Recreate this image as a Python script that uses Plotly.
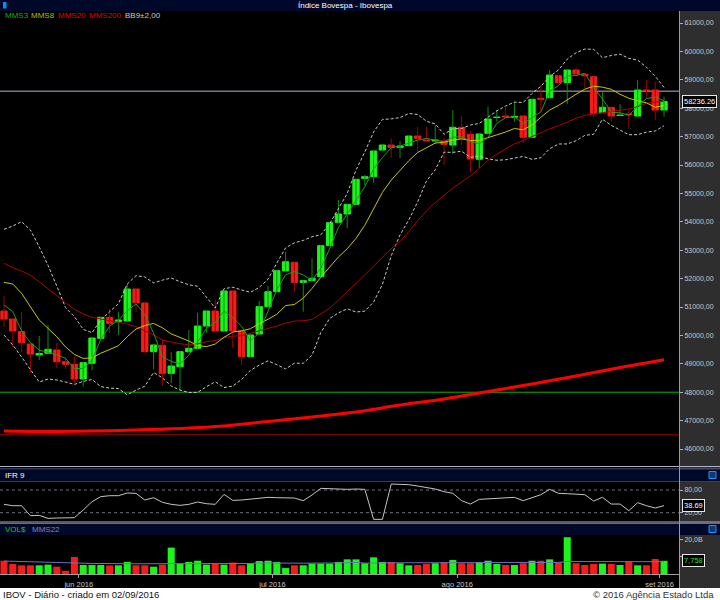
import plotly.graph_objects as go
import pandas as pd

FONT = "Liberation Sans, Arial, sans-serif"
FIG_W, FIG_H, PLOT_W = 720, 600, 679

# ---------------- data ----------------
MAY_DAYS = [18, 19, 20, 23, 24, 25, 27, 31]
JUN_DAYS = [1, 2, 3, 6, 7, 8, 9, 10, 13, 14, 15, 16, 17, 20, 21, 22, 23, 24, 27, 28, 29, 30]
JUL_DAYS = [1, 4, 5, 6, 7, 8, 11, 12, 13, 14, 15, 18, 19, 20, 21, 22, 25, 26, 27, 28, 29]
AGO_DAYS = [1, 2, 3, 4, 5, 8, 9, 10, 11, 12, 15, 16, 17, 18, 19, 22, 23, 24, 25, 26, 29, 30, 31]
SET_DAYS = [1, 2]
MONTH_LABELS = ["jun 2016", "jul 2016", "ago 2016", "set 2016"]

OPEN = [50859, 50578, 50138, 49697, 49310, 49370, 49486, 49074, 48983, 48465,
        49018, 49898, 50638, 50483, 50507, 51634, 51141, 49426, 49652, 48666,
        48898, 49426, 49546, 50331, 50859, 50155, 51564, 50155, 49250, 50049,
        51011, 51539, 52268, 52574, 51870, 51926, 52067, 53159, 53983, 54275,
        54616, 55532, 55588, 56528, 56704, 56623, 56680, 57021, 56880, 56845,
        56845, 56704, 57328, 57081, 56201, 57116, 57673, 57725, 57680, 57725,
        56975, 58349, 58370, 59144, 58898, 59345, 59194, 59109, 57842, 58032,
        57743, 57796, 57725, 58641, 58641, 57937]
HIGH = [51387, 50578, 50824, 49697, 49979, 50366, 49733, 49240, 49250, 49064,
        49909, 50648, 50919, 50835, 51810, 51650, 51141, 49697, 49873, 49405,
        49433, 50190, 50800, 50859, 51247, 51599, 51564, 50155, 50049, 51211,
        51740, 52303, 52947, 52585, 51933, 52715, 53183, 53993, 54768, 54627,
        55507, 55648, 56493, 56740, 56940, 56845, 57021, 57338, 57338, 57409,
        56951, 57937, 57725, 57173, 57127, 58053, 57937, 58018, 58229, 57736,
        58324, 58792, 59345, 59169, 59345, 59426, 59210, 59116, 58581, 58042,
        58137, 57937, 58993, 58993, 58933, 58405]
LOW = [50296, 49592, 49416, 48676, 49134, 49363, 48852, 48817, 48314, 48194,
       48782, 49873, 50074, 50014, 50472, 50835, 49416, 48817, 48219, 48314,
       48078, 49416, 49521, 50085, 50120, 50138, 49557, 48958, 49240, 50014,
       51000, 51528, 52250, 51539, 50835, 51916, 52057, 53148, 53958, 53771,
       54592, 55296, 55377, 56493, 56257, 56247, 56669, 56468, 56810, 56740,
       56000, 56387, 56704, 55743, 55895, 57092, 57525, 57655, 57525, 56764,
       56951, 57902, 58359, 58887, 58137, 59169, 58711, 57666, 57831, 57525,
       57725, 57292, 57690, 58349, 57585, 57701]
CLOSE = [50578, 50155, 49743, 49345, 49363, 49511, 49074, 48983, 48465, 49039,
         49909, 50638, 50426, 50543, 51634, 51152, 49426, 49662, 48666, 48923,
         49426, 49546, 50331, 50859, 50155, 51564, 50155, 49250, 50014, 51011,
         51539, 52278, 52595, 51870, 51926, 52011, 53159, 53969, 54275, 54616,
         55497, 55588, 56493, 56704, 56623, 56669, 57021, 56940, 56845, 56880,
         56729, 57328, 56940, 56211, 57092, 57620, 57690, 57690, 57715, 56975,
         58313, 58313, 59169, 58898, 59345, 59204, 59144, 57821, 58032, 57725,
         57761, 57771, 58641, 58606, 57937, 58236.26]

VOLUME_B = [7.8, 5.9, 5.1, 5.1, 5.1, 5.5, 4.3, 1.9, 10.0, 5.3,
            5.3, 5.3, 5.0, 5.1, 7.1, 5.1, 5.1, 4.3, 5.5, 15.5,
            5.9, 7.1, 7.8, 5.5, 5.9, 5.5, 6.7, 5.1, 6.1, 7.6,
            7.8, 7.1, 3.5, 5.1, 5.1, 6.1, 6.1, 6.1, 7.1, 8.6,
            8.6, 6.3, 9.8, 7.1, 7.1, 6.3, 5.1, 5.3, 5.9, 6.3,
            6.9, 8.2, 6.3, 6.3, 6.9, 7.8, 5.9, 5.3, 5.3, 6.3,
            7.8, 7.8, 8.6, 6.9, 21.6, 6.3, 5.3, 5.9, 6.1, 5.9,
            5.3, 7.3, 5.1, 5.1, 8.8, 7.758]

IFR9 = [42.1, 38.5, 38.5, 12.1, 12.9, 5.0, 5.9, 5.9, 6.8, 27.1,
        49.1, 62.4, 65.0, 65.0, 72.1, 71.2, 53.5, 59.7, 47.4, 42.1,
        39.4, 42.1, 48.2, 43.8, 42.1, 68.5, 52.6, 53.5, 56.2, 57.9,
        60.6, 59.7, 59.7, 58.8, 51.8, 66.8, 84.4, 83.5, 81.8, 81.8,
        82.6, 81.8, 2.4, 2.4, 95.9, 95.9, 94.1, 90.6, 86.2, 82.6,
        75.6, 71.2, 51.8, 42.9, 55.3, 57.1, 58.8, 60.6, 60.6, 51.8,
        59.7, 67.6, 81.8, 71.2, 70.3, 68.5, 67.6, 50.9, 60.6, 42.9,
        42.9, 25.3, 46.5, 38.5, 32.4, 38.69]

# indicator values at the start of the window
MMS3_START = [51071, 50835]
MMS8_START = [51870, 51810, 51483, 51011, 50542, 50250, 49954]
MMS20_START = [52539, 52384, 52268, 52116, 51891, 51659, 51398, 51152, 50919, 50754,
               50638, 50578, 50518, 50483, 50402, 50307, 50166, 50014, 49838]
BB_UPPER_START = [53736, 53852, 54004, 53711, 53123, 52468, 51740, 50976]
BB_LOWER_START = [50014, 49662, 49240, 48782, 48359, 48465, 48430, 48359]
MMS200_IDX = [0, 5, 10, 15, 20, 25, 30, 35, 40, 45, 50, 55, 60, 65, 70, 75]
MMS200_VAL = [46634, 46616, 46634, 46669, 46722, 46810, 46969, 47127, 47303, 47549,
              47761, 48025, 48289, 48571, 48870, 49145]
MMS22_START_IDX = [0, 5, 10, 15, 20]
MMS22_START_VAL = [7.6, 6.8, 6.2, 6.0, 6.0]

PRICE_TICKS = list(range(46000, 61001, 1000))
LEVEL_LINES = [(58600, "#b4b4d4"), (48000, "#00b400"), (46500, "#a00000")]

# ---------------- derived ----------------
n = len(CLOSE)
idx = list(range(n))
close = pd.Series(CLOSE, dtype=float)
mms3 = close.rolling(3).mean(); mms3.iloc[:2] = MMS3_START
mms8 = close.rolling(8).mean(); mms8.iloc[:7] = MMS8_START
mms20 = close.rolling(20).mean(); mms20.iloc[:19] = MMS20_START
mid9 = close.rolling(9).mean(); sd9 = close.rolling(9).std(ddof=0)
bbu = mid9 + 2 * sd9; bbu.iloc[:8] = BB_UPPER_START
bbl = mid9 - 2 * sd9; bbl.iloc[:8] = BB_LOWER_START
vol = pd.Series(VOLUME_B)
mms22 = vol.rolling(22).mean()
x22 = MMS22_START_IDX + list(range(21, n))
y22 = MMS22_START_VAL + list(mms22.iloc[21:])

up = [CLOSE[i] >= OPEN[i] for i in idx]
GREEN, RED = "#1cf51c", "#f51c1c"
GREEN_W, RED_W = "#0c8f0c", "#a00000"

month_starts = [len(MAY_DAYS), len(MAY_DAYS) + len(JUN_DAYS),
                len(MAY_DAYS) + len(JUN_DAYS) + len(JUL_DAYS),
                len(MAY_DAYS) + len(JUN_DAYS) + len(JUL_DAYS) + len(AGO_DAYS)]
tick_pos = [m + 0.5 for m in month_starts]


def px(x):
    return x / PLOT_W


def py(y):
    return 1 - y / FIG_H


fig = go.Figure()

# ---- main panel ----
fig.add_trace(go.Scatter(x=MMS200_IDX, y=MMS200_VAL, mode="lines", xaxis="x2", yaxis="y",
                         line=dict(color="#ff0000", width=3, shape="spline")))

for up_flag, col in [(True, GREEN_W), (False, RED_W)]:
    xs, ys = [], []
    for i in idx:
        if up[i] == up_flag:
            xs += [i, i, None]
            ys += [HIGH[i], LOW[i], None]
    fig.add_trace(go.Scatter(x=xs, y=ys, mode="lines", xaxis="x2", yaxis="y",
                             line=dict(color=col, width=1)))

body_base = [min(OPEN[i], CLOSE[i]) for i in idx]
body_h = [abs(CLOSE[i] - OPEN[i]) for i in idx]
body_col = [GREEN if u else RED for u in up]
fig.add_trace(go.Bar(x=idx, y=body_h, base=body_base, width=0.72, xaxis="x2", yaxis="y",
                     marker=dict(color=body_col, line=dict(color=body_col, width=1))))

for s in (bbu, bbl):
    fig.add_trace(go.Scatter(x=idx, y=list(s), mode="lines", xaxis="x2", yaxis="y",
                             line=dict(color="#c8c8c8", width=1, dash="3px,2px")))
fig.add_trace(go.Scatter(x=idx, y=list(mms20), mode="lines", xaxis="x2", yaxis="y",
                         line=dict(color="#b00000", width=1)))
fig.add_trace(go.Scatter(x=idx, y=list(mms8), mode="lines", xaxis="x2", yaxis="y",
                         line=dict(color="#c8c800", width=1)))
fig.add_trace(go.Scatter(x=idx, y=list(mms3), mode="lines", xaxis="x2", yaxis="y",
                         line=dict(color="#1aa01a", width=1)))

# ---- IFR panel ----
fig.add_trace(go.Scatter(x=idx, y=IFR9, mode="lines", xaxis="x3", yaxis="y2",
                         line=dict(color="#c4c4c4", width=1)))

# ---- volume panel ----
fig.add_trace(go.Bar(x=idx, y=VOLUME_B, width=0.8, xaxis="x", yaxis="y3",
                     marker=dict(color=body_col, line=dict(width=0))))
fig.add_trace(go.Scatter(x=x22, y=y22, mode="lines", xaxis="x", yaxis="y3",
                         line=dict(color="#6f6fc8", width=1)))

# ---------------- layout ----------------
tickfont = dict(family=FONT, size=7, color="#c8c8c8")
yax_common = dict(side="right", showgrid=False, zeroline=False, showline=False,
                  ticks="outside", ticklen=3, tickcolor="#b0b0b0", tickfont=tickfont)
xrange = [-0.4545, 76.7]

shapes = []


def rect(x0, y0, x1, y1, fill, line_col=None, layer="below"):
    shapes.append(dict(type="rect", xref="paper", yref="paper", x0=px(x0), x1=px(x1),
                       y0=py(y1), y1=py(y0), fillcolor=fill, layer=layer,
                       line=dict(width=1 if line_col else 0, color=line_col or fill)))


def hline_px(y, col, x0=0, x1=FIG_W, layer="below"):
    shapes.append(dict(type="line", xref="paper", yref="paper", x0=px(x0), x1=px(x1),
                       y0=py(y), y1=py(y), layer=layer, line=dict(color=col, width=1)))


rect(679, 0, 720, 588, "#2e2e2e")
rect(0, 0, 720, 11, "#00082a")
hline_px(466.5, "#b0b0c8")
hline_px(469.0, "#6a6a8a")
rect(0, 469.5, 720, 481, "#00082a")
hline_px(481.5, "#3a3a5a")
hline_px(522.0, "#b0b0c8")
hline_px(523.5, "#6a6a8a")
rect(0, 524, 720, 535, "#00082a")
rect(0, 588, 720, 600, "#ffffff")
shapes.append(dict(type="line", xref="paper", yref="paper", x0=px(679.5), x1=px(679.5),
                   y0=py(588), y1=py(11), line=dict(color="#9a9a9a", width=1)))
# icons
rect(3, 2, 6.5, 8.5, "#0a8ee6")
rect(709, 471.5, 716, 478.5, "#0a3a6a", "#1e90ff")
rect(709, 525.5, 716, 532.5, "#0a3a6a", "#1e90ff")

for lvl, col in LEVEL_LINES:
    shapes.append(dict(type="line", xref="paper", yref="y", x0=0, x1=1, y0=lvl, y1=lvl,
                       layer="below", line=dict(color=col, width=1)))
for lvl in (20, 80):
    shapes.append(dict(type="line", xref="paper", yref="y2", x0=0, x1=1, y0=lvl, y1=lvl,
                       layer="below", line=dict(color="#707070", width=1, dash="3px,3px")))

annotations = []


def ann(text, x, y, color, size=8, xanchor="left", yref="paper", **kw):
    annotations.append(dict(text=text, x=px(x), y=py(y) if yref == "paper" else y,
                            xref="paper", yref=yref, showarrow=False, xanchor=xanchor,
                            yanchor="middle", font=dict(family=FONT, size=size, color=color), **kw))


ann("Índice Bovespa - Ibovespa", 345, 5.5, "#ffffff", 8, xanchor="center")
ann("MMS3", 2.5, 16, "#10b010")
ann("MMS8", 29, 16, "#b8b800")
ann("MMS20", 55.5, 16, "#e00000")
ann("MMS200", 86.5, 16, "#e00000")
ann("BB9±2,00", 122.5, 16, "#c8c8c8")
ann("IFR 9", 2.5, 475.5, "#ffffff", 8)
ann("VOL$", 2.5, 529.5, "#10d010", 8)
ann("MMS22", 29.5, 529.5, "#8080d0", 8)
ann("IBOV - Diário - criado em 02/09/2016", 1, 594, "#111111", 9.5)
ann("© 2016 Agência Estado Ltda", 716, 594, "#303030", 9.5, xanchor="right")
box = dict(bgcolor="#000000", bordercolor="#e6e6e6", borderwidth=1, borderpad=1)
ann(f"{CLOSE[-1]:.2f}", 682, CLOSE[-1], "#ffffff", 7.5, yref="y", **box)
ann(f"{IFR9[-1]:.2f}", 682, IFR9[-1], "#ffffff", 7.5, yref="y2", **box)
ann(f"{VOLUME_B[-1]:.3f}".replace(".", ","), 682, VOLUME_B[-1], "#20e020", 7.5, yref="y3", **box)

fig.update_layout(
    width=FIG_W, height=FIG_H, autosize=False,
    margin=dict(l=0, r=FIG_W - PLOT_W, t=0, b=0, pad=0),
    paper_bgcolor="#000000", plot_bgcolor="#000000",
    showlegend=False, barmode="overlay", hovermode=False,
    xaxis=dict(domain=[0, 1], anchor="y3", range=xrange, tickvals=tick_pos, ticktext=MONTH_LABELS,
               tickfont=dict(family=FONT, size=7.5, color="#c8c8c8"), ticks="outside", ticklen=3,
               tickcolor="#a0a0a0", showgrid=False, zeroline=False, showline=True,
               linecolor="#a0a0a0", linewidth=1),
    xaxis2=dict(matches="x", anchor="y", showticklabels=False, showgrid=False, zeroline=False, ticks=""),
    xaxis3=dict(matches="x", anchor="y2", showticklabels=False, showgrid=False, zeroline=False, ticks=""),
    yaxis=dict(domain=[py(466), py(11)], anchor="x2", range=[45402, 61423], tickvals=PRICE_TICKS,
               ticktext=[f"{v},00" for v in PRICE_TICKS], **yax_common),
    yaxis2=dict(domain=[py(522), py(482)], anchor="x3", range=[-4.6, 101.2], tickvals=[20, 80],
                ticktext=["20,00", "80,00"], **yax_common),
    yaxis3=dict(domain=[py(574), py(535)], anchor="x", range=[0, 22.9], tickvals=[10, 20],
                ticktext=["10,0B", "20,0B"], **yax_common),
    shapes=shapes, annotations=annotations,
)

fig.write_html("out.html")
